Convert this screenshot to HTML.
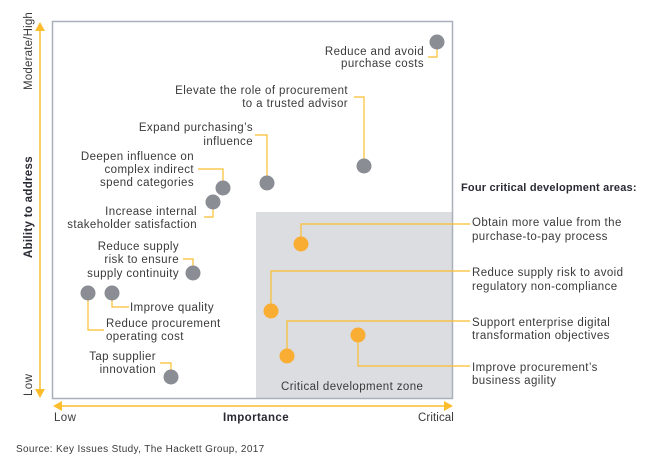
<!DOCTYPE html>
<html><head><meta charset="utf-8"><style>
html,body{margin:0;padding:0;background:#fff}
svg{display:block}
text{font-family:"Liberation Sans",Arial,sans-serif;font-size:11.5px;fill:#3a3a3a;letter-spacing:0.4px}
.b{font-weight:bold;fill:#2a2a35}
</style></head><body>
<svg width="658" height="467" viewBox="0 0 658 467" xmlns="http://www.w3.org/2000/svg">
<rect x="256" y="212" width="196" height="186" fill="#dcdde0"/>
<rect x="52.5" y="21.5" width="400" height="377" fill="none" stroke="#a9afbb" stroke-width="1.5"/>
<g stroke="#fbbd2e" stroke-width="1.5" fill="none">
<line x1="40" y1="28" x2="40" y2="392"/>
<line x1="60" y1="406" x2="446" y2="406"/>
</g>
<g fill="#fbbd2e">
<polygon points="40,22 35,31 45,31"/>
<polygon points="40,398 35,389 45,389"/>
<polygon points="53,406 62,401 62,411"/>
<polygon points="453,406 444,401 444,411"/>
</g>
<text transform="translate(32,90) rotate(-90)" style="letter-spacing:0.2px">Moderate/High</text>
<text class="b" transform="translate(32,258) rotate(-90)" style="letter-spacing:0.3px">Ability to address</text>
<text transform="translate(32,396) rotate(-90)">Low</text>
<text x="54" y="421">Low</text>
<text x="223" y="421" class="b">Importance</text>
<text x="418" y="421" style="letter-spacing:0.1px">Critical</text>
<text x="16" y="452" style="font-size:10px;letter-spacing:0.35px">Source: Key Issues Study, The Hackett Group, 2017</text>
<g stroke="#fbbd2e" stroke-width="1.2" fill="none">
<polyline points="437,46 437,57 428,57"/>
<polyline points="364,162 364,97 354,97"/>
<polyline points="267,180 267,135 255,135"/>
<polyline points="223,185 223,169 198,169"/>
<polyline points="213,204 213,217 204,217"/>
<polyline points="193,270 193,259 183,259"/>
<polyline points="88,296 88,330 104,330"/>
<polyline points="112,296 112,307 129,307"/>
<polyline points="171,374 171,363 160,363"/>
<polyline points="301,241 301,224 470,224"/>
<polyline points="271,308 271,271 470,271"/>
<polyline points="287,353 287,321 470,321"/>
<polyline points="358,338 358,366 470,366"/>
</g>
<g fill="#8a8d94">
<circle cx="437" cy="42" r="7.5"/>
<circle cx="364" cy="166" r="7.5"/>
<circle cx="267" cy="183" r="7.5"/>
<circle cx="223" cy="188" r="7.5"/>
<circle cx="213" cy="202" r="7.5"/>
<circle cx="193" cy="273" r="7.5"/>
<circle cx="88" cy="293" r="7.5"/>
<circle cx="112" cy="293" r="7.5"/>
<circle cx="171" cy="377" r="7.5"/>
</g>
<g fill="#f9ad33">
<circle cx="301" cy="244" r="7.5"/>
<circle cx="271" cy="311" r="7.5"/>
<circle cx="287" cy="356" r="7.5"/>
<circle cx="358" cy="335" r="7.5"/>
</g>
<g text-anchor="end">
<text x="424" y="55">Reduce and avoid</text>
<text x="424" y="67">purchase costs</text>
<text x="348" y="94">Elevate the role of procurement</text>
<text x="348" y="107">to a trusted advisor</text>
<text x="253" y="131">Expand purchasing’s</text>
<text x="253" y="145">influence</text>
<text x="194" y="160">Deepen influence on</text>
<text x="194" y="173">complex indirect</text>
<text x="194" y="186">spend categories</text>
<text x="197" y="215">Increase internal</text>
<text x="197" y="228">stakeholder satisfaction</text>
<text x="179" y="250">Reduce supply</text>
<text x="179" y="263">risk to ensure</text>
<text x="179" y="277">supply continuity</text>
<text x="156" y="360">Tap supplier</text>
<text x="156" y="373">innovation</text>
</g>
<text x="130" y="311">Improve quality</text>
<text x="106" y="327">Reduce procurement</text>
<text x="106" y="340">operating cost</text>
<text x="281" y="390">Critical development zone</text>
<text x="461" y="191" class="b" style="font-size:11px;letter-spacing:0.2px">Four critical development areas:</text>
<text x="472" y="226">Obtain more value from the</text>
<text x="472" y="240">purchase-to-pay process</text>
<text x="472" y="276">Reduce supply risk to avoid</text>
<text x="472" y="290">regulatory non-compliance</text>
<text x="472" y="326">Support enterprise digital</text>
<text x="472" y="339">transformation objectives</text>
<text x="472" y="371">Improve procurement’s</text>
<text x="472" y="384">business agility</text>
</svg>
</body></html>
